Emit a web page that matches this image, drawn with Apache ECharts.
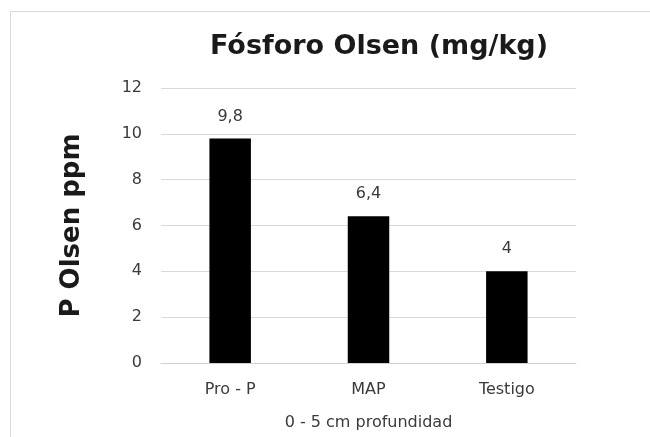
<!DOCTYPE html>
<html>
<head>
<meta charset="utf-8">
<script src="https://cdn.jsdelivr.net/npm/echarts@6/dist/echarts.min.js"></script>
<style>
  html, body { margin: 0; padding: 0; background: #fff; }
  #chart { width: 650px; height: 437px; }
  #frame { position: absolute; left: 10px; top: 11px; width: 700px; height: 500px; border: 1px solid #d9d9d9; box-sizing: border-box; pointer-events: none; }
</style>
</head>
<body>
<div id="chart"></div>
<div id="frame"></div>
<script>
var categories = ['Pro - P', 'MAP', 'Testigo'];
var values = [9.8, 6.4, 4];
var yTicks = [0, 2, 4, 6, 8, 10, 12];

var myChart = echarts.init(document.getElementById('chart'));
var fontFam = '"DejaVu Sans", sans-serif';

var option = {
    animation: false,
    title: {
        text: 'Fósforo Olsen (mg/kg)',
        left: 374,
        top: 28,
        textAlign: 'center',
        textStyle: { fontFamily: fontFam, fontSize: 27, fontWeight: 'bold', color: '#1a1a1a' }
    },
    grid: { left: 161, right: 74, top: 88, bottom: 74 },
    xAxis: {
        type: 'category',
        data: categories,
        name: '0 - 5 cm profundidad',
        nameLocation: 'middle',
        nameGap: 52,
        nameTextStyle: { fontFamily: fontFam, fontSize: 16, color: '#3a3a3a' },
        axisLine: { lineStyle: { color: '#d0d0d0' } },
        axisTick: { show: false },
        axisLabel: { fontFamily: fontFam, fontSize: 16, color: '#3a3a3a', margin: 19 }
    },
    yAxis: {
        type: 'value',
        min: yTicks[0],
        max: yTicks[yTicks.length - 1],
        interval: 2,
        name: 'P Olsen ppm',
        nameLocation: 'middle',
        nameGap: 76,
        nameRotate: 90,
        nameTextStyle: { fontFamily: fontFam, fontSize: 26, fontWeight: 'bold', color: '#1a1a1a' },
        axisLine: { show: false },
        axisTick: { show: false },
        splitLine: { lineStyle: { color: '#d9d9d9' } },
        axisLabel: { fontFamily: fontFam, fontSize: 16, color: '#3a3a3a', margin: 19 }
    },
    series: [{
        type: 'bar',
        data: values,
        barWidth: '30%',
        itemStyle: { color: '#000' },
        label: {
            show: true,
            position: 'top',
            distance: 14,
            fontFamily: fontFam,
            fontSize: 16,
            color: '#3a3a3a',
            formatter: function (p) { return String(p.value).replace('.', ','); }
        }
    }]
};

myChart.setOption(option);
</script>
</body>
</html>
